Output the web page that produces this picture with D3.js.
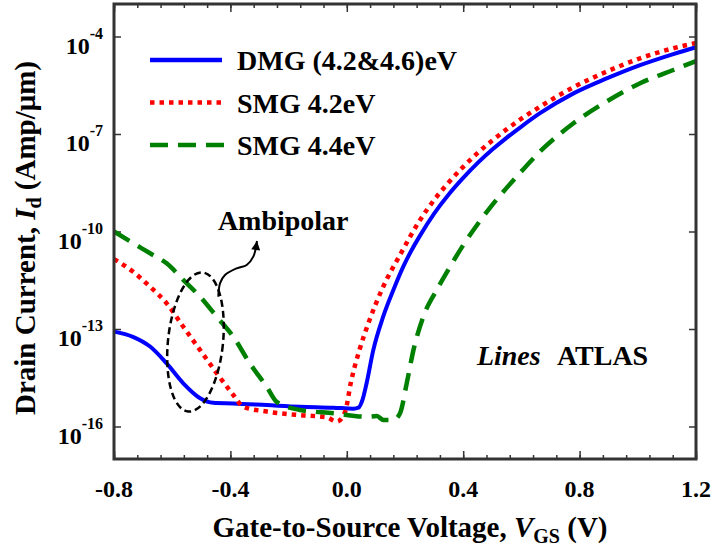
<!DOCTYPE html>
<html>
<head>
<meta charset="utf-8">
<script src="https://cdn.jsdelivr.net/npm/d3@7"></script>
<style>
body { margin: 0; background: #fff; }
svg { display: block; font-family: "Liberation Serif", "Times New Roman", serif; font-weight: bold; }
</style>
</head>
<body>
<svg width="714" height="553"></svg>
<script>
// DMG (4.2&4.6)eV, log10 of drain current
var dmgV = [-0.80, -0.735, -0.676, -0.619, -0.562, -0.504, -0.459, -0.39, -0.275, -0.161, -0.046, 0.023, 0.04, 0.055, 0.068, 0.091, 0.125, 0.16, 0.194, 0.223, 0.25, 0.3, 0.35, 0.4, 0.45, 0.5, 0.55, 0.6, 0.664, 0.779, 0.893, 1.008, 1.122, 1.2];
var dmgLogI = [-13.08, -13.24, -13.54, -14.06, -14.67, -15.13, -15.27, -15.29, -15.34, -15.39, -15.42, -15.45, -15.42, -15.15, -14.67, -13.65, -12.62, -11.80, -11.08, -10.57, -10.15, -9.45, -8.86, -8.35, -7.89, -7.48, -7.11, -6.77, -6.36, -5.75, -5.29, -4.88, -4.54, -4.33];

// SMG 4.2eV
var smg42V = [-0.80, -0.734, -0.676, -0.619, -0.562, -0.504, -0.447, -0.39, -0.356, -0.275, -0.161, -0.069, -0.034, -0.006, 0.015, 0.045, 0.075, 0.125, 0.183, 0.25, 0.3, 0.35, 0.4, 0.45, 0.5, 0.55, 0.6, 0.664, 0.779, 0.893, 1.008, 1.122, 1.2];
var smg42LogI = [-10.85, -11.24, -11.70, -12.21, -12.93, -13.65, -14.36, -15.03, -15.39, -15.54, -15.65, -15.72, -15.85, -15.55, -14.6, -13.6, -12.8, -11.7, -10.72, -9.67, -9.03, -8.49, -8.01, -7.58, -7.20, -6.85, -6.53, -6.16, -5.56, -5.08, -4.67, -4.36, -4.2];

// SMG 4.4eV
var smg44V = [-0.80, -0.734, -0.676, -0.619, -0.562, -0.504, -0.447, -0.39, -0.333, -0.275, -0.241, -0.161, -0.046, 0.069, 0.103, 0.126, 0.16, 0.183, 0.206, 0.229, 0.263, 0.309, 0.355, 0.4, 0.45, 0.5, 0.55, 0.6, 0.664, 0.779, 0.893, 1.008, 1.122, 1.2];
var smg44LogI = [-10.0, -10.36, -10.67, -10.98, -11.49, -12.01, -12.62, -13.24, -14.06, -14.78, -15.24, -15.49, -15.59, -15.70, -15.68, -15.80, -15.80, -15.59, -14.67, -13.65, -12.62, -11.80, -11.08, -10.42, -9.77, -9.18, -8.65, -8.15, -7.54, -6.67, -6.0, -5.44, -5.03, -4.76];

var legendLabels = ["DMG (4.2&4.6)eV", "SMG 4.2eV", "SMG 4.4eV"];
var colors = ["#0000ff", "#ff0000", "#008000"];
var dashes = [null, "4.5,5", "18,10"];

var xTicks = [-0.8, -0.4, 0.0, 0.4, 0.8, 1.2];
var yTicks = [1e-4, 1e-7, 1e-10, 1e-13, 1e-16];
var yTickExp = ["-4", "-7", "-10", "-13", "-16"];

// ambipolar annotation (V, log10 I)
var ellipseC = [-0.520, -13.40], ellipseR = [0.0945, 2.15];
var arrowPts = [[-0.4416, -12.006], [-0.4357, -11.594], [-0.4186, -11.338], [-0.3784, -11.132], [-0.344, -11.031], [-0.3213, -10.775], [-0.3086, -10.292]];

var svg = d3.select("svg"),
margin = {top: 4, right: 18, bottom: 94, left: 114},
width = +svg.attr("width") - margin.left - margin.right,
height = +svg.attr("height") - margin.top - margin.bottom;

var x = d3.scaleLinear().domain([-0.8, 1.2]).range([0, width]),
y = d3.scaleLog().domain([1e-17, 1e-3]).range([height, 0]);

var xMinor = d3.range(-0.8, 1.2001, 0.08);

var g = svg.append("g")
		.attr("transform", "translate(" + margin.left + "," + margin.top + ")");

function noDomain(sel) { sel.select(".domain").remove(); sel.selectAll("line").attr("stroke", "#333").attr("stroke-width", 1.5); }

g.append("g").attr("transform", "translate(0," + height + ")")
		.call(d3.axisBottom(x).tickValues(xMinor).tickSize(-4).tickFormat("")).call(noDomain);
g.append("g").attr("transform", "translate(0," + height + ")")
		.call(d3.axisBottom(x).tickValues(xTicks).tickSize(-8).tickFormat("")).call(noDomain);
g.append("g")
		.call(d3.axisTop(x).tickValues(xMinor).tickSize(-4).tickFormat("")).call(noDomain);
g.append("g")
		.call(d3.axisTop(x).tickValues(xTicks).tickSize(-8).tickFormat("")).call(noDomain);
g.append("g")
		.call(d3.axisLeft(y).tickValues(yTicks).tickSize(-7).tickFormat("")).call(noDomain);
g.append("g").attr("transform", "translate(" + width + ",0)")
		.call(d3.axisRight(y).tickValues(yTicks).tickSize(-7).tickFormat("")).call(noDomain);

// x tick labels
g.selectAll(".xlab").data(xTicks).enter().append("text")
		.attr("class", "xlab")
		.attr("x", function (d) { return x(d); })
		.attr("y", height + 38)
		.attr("text-anchor", "middle")
		.attr("font-size", 24)
		.text(function (d) { return d.toFixed(1); });

// y tick labels 10^n
var ylab = g.selectAll(".ylab").data(yTicks).enter().append("text")
		.attr("class", "ylab")
		.attr("x", -11)
		.attr("y", function (d) { return y(d) + 17; })
		.attr("text-anchor", "end")
		.attr("font-size", 24)
		.text("10");
ylab.append("tspan")
		.attr("font-size", 16)
		.attr("dy", -15)
		.text(function (d, i) { return yTickExp[i]; });

// curves
var line = d3.line()
		.x(function (d) { return x(d[0]); })
		.y(function (d) { return y(Math.pow(10, d[1])); })
		.curve(d3.curveMonotoneX);

var series = [d3.zip(dmgV, dmgLogI), d3.zip(smg42V, smg42LogI), d3.zip(smg44V, smg44LogI)];

series.forEach(function (s, i) {
	g.append("path")
		.datum(s)
		.attr("fill", "none")
		.attr("stroke", colors[i])
		.attr("stroke-width", i == 0 ? 4 : 4.5)
		.attr("stroke-dasharray", dashes[i])
		.attr("d", line);
});

// frame
g.append("rect")
		.attr("width", width)
		.attr("height", height)
		.attr("fill", "none")
		.attr("stroke", "#333")
		.attr("stroke-width", 3);

// legend
var legend = g.selectAll(".legend").data(legendLabels).enter().append("g")
		.attr("class", "legend")
		.attr("transform", function (d, i) { return "translate(0," + (56 + i * 42.5) + ")"; });
legend.append("line")
		.attr("x1", 36).attr("x2", function (d, i) { return i == 2 ? 112 : 108; })
		.attr("stroke", function (d, i) { return colors[i]; })
		.attr("stroke-width", 4.5)
		.attr("stroke-dasharray", function (d, i) { return dashes[i]; });
legend.append("text")
		.attr("x", 123)
		.attr("y", 10)
		.attr("font-size", 28)
		.text(function (d) { return d; });

// ambipolar ellipse + arrow
var ex = x(ellipseC[0]), ey = y(Math.pow(10, ellipseC[1]));
g.append("ellipse")
		.attr("cx", ex).attr("cy", ey)
		.attr("rx", x(ellipseC[0] + ellipseR[0]) - ex)
		.attr("ry", y(Math.pow(10, ellipseC[1] - ellipseR[1])) - ey)
		.attr("transform", "rotate(6," + ex + "," + ey + ")")
		.attr("fill", "none")
		.attr("stroke", "#000")
		.attr("stroke-width", 2.5)
		.attr("stroke-dasharray", "7,4");

svg.append("defs").append("marker")
		.attr("id", "head")
		.attr("viewBox", "0 0 10 10")
		.attr("refX", 10).attr("refY", 5)
		.attr("markerWidth", 10).attr("markerHeight", 9)
		.attr("markerUnits", "userSpaceOnUse")
		.attr("orient", "auto")
		.append("path").attr("d", "M0,0L10,5L0,10z").attr("fill", "#000");

g.append("path")
		.datum(arrowPts)
		.attr("fill", "none")
		.attr("stroke", "#000")
		.attr("stroke-width", 2)
		.attr("marker-end", "url(#head)")
		.attr("d", d3.line()
			.x(function (d) { return x(d[0]); })
			.y(function (d) { return y(Math.pow(10, d[1])); })
			.curve(d3.curveCatmullRom));

g.append("text")
		.attr("x", x(-0.443))
		.attr("y", y(Math.pow(10, -9.95)))
		.attr("font-size", 28)
		.text("Ambipolar");

var atlas = g.append("text")
		.attr("x", x(0.447))
		.attr("y", y(Math.pow(10, -14.11)))
		.attr("font-size", 28);
atlas.append("tspan").attr("font-style", "italic").text("Lines");
atlas.append("tspan").attr("x", x(0.722)).text("ATLAS");

// axis titles
var xt = svg.append("text")
		.attr("x", 410)
		.attr("y", 537)
		.attr("text-anchor", "middle")
		.attr("font-size", 29);
xt.append("tspan").text("Gate-to-Source Voltage, ");
xt.append("tspan").attr("font-style", "italic").text("V");
xt.append("tspan").attr("font-size", 20).attr("dy", 6).text("GS");
xt.append("tspan").attr("dy", -6).text(" (V)");

var yt = svg.append("text")
		.attr("transform", "translate(35,238) rotate(-90)")
		.attr("text-anchor", "middle")
		.attr("font-size", 29);
yt.append("tspan").text("Drain Current, ");
yt.append("tspan").attr("font-style", "italic").text("I");
yt.append("tspan").attr("font-size", 20).attr("dy", 6).text("d");
yt.append("tspan").attr("dy", -6).text(" (Amp/μm)");
</script>
</body>
</html>
